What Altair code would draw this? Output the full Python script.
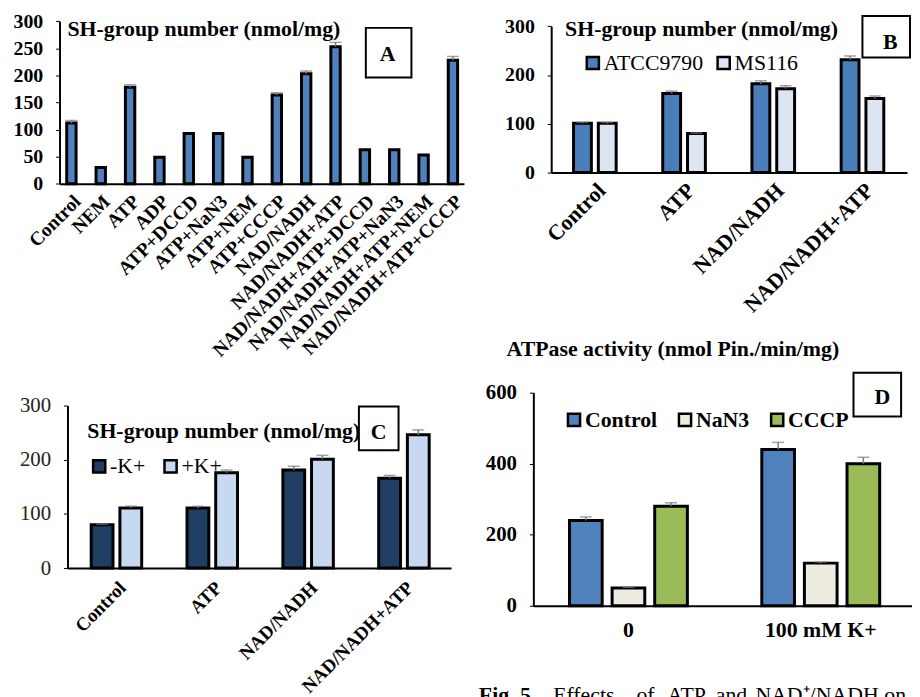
import altair as alt
import pandas as pd

SERIF = "Liberation Serif"
H = 689  # plot height (page height minus 8px margin)
W = 912

# ---------------- data ----------------
a_categories = ["Control", "NEM", "ATP", "ADP", "ATP+DCCD", "ATP+NaN3", "ATP+NEM",
                "ATP+CCCP", "NAD/NADH", "NAD/NADH+ATP", "NAD/NADH+ATP+DCCD",
                "NAD/NADH+ATP+NaN3", "NAD/NADH+ATP+NEM", "NAD/NADH+ATP+CCCP"]
a_values = [112, 30, 178, 49, 93, 93, 49, 164, 203, 253, 63, 63, 53, 228]
a_errors = [5, 0, 5, 0, 0, 0, 0, 4, 5, 8, 0, 0, 0, 7]

b_groups = ["Control", "ATP", "NAD/NADH", "NAD/NADH+ATP"]
b_series = ["ATCC9790", "MS116"]
b_atcc = [101, 162, 182, 231]
b_ms116 = [101, 80, 172, 152]
b_atcc_err = [2, 5, 6, 8]
b_ms116_err = [2, 1, 6, 5]
b_colors = ["#4a7ebb", "#dce6f2"]

c_groups = ["Control", "ATP", "NAD/NADH", "NAD/NADH+ATP"]
c_series = ["-K+", "+K+"]
c_minus = [80, 111, 181, 166]
c_plus = [111, 176, 201, 246]
c_minus_err = [1, 3, 7, 5]
c_plus_err = [3, 5, 7, 9]
c_colors = ["#203d63", "#c6d9f1"]

d_groups = ["0", "100 mM K+"]
d_series = ["Control", "NaN3", "CCCP"]
d_control = [240, 440]
d_nan3 = [50, 120]
d_cccp = [280, 400]
d_control_err = [10, 20]
d_nan3_err = [2, 3]
d_cccp_err = [10, 18]
d_colors = ["#4f81bd", "#eeece1", "#9bbb59"]

caption_words = ["Effects", "of", "ATP", "and", "NAD\u207a/NADH", "on"]

ERR_COLOR = "#7a7a7a"


def grouped_df(groups, series, values_list, errors_list):
    rows = []
    for s, vals, errs in zip(series, values_list, errors_list):
        for g, v, e in zip(groups, vals, errs):
            rows.append({"group": g, "series": s, "value": v, "err": e})
    return pd.DataFrame(rows)


df_a = pd.DataFrame({"group": a_categories, "series": "all",
                     "value": a_values, "err": a_errors})
df_b = grouped_df(b_groups, b_series, [b_atcc, b_ms116], [b_atcc_err, b_ms116_err])
df_c = grouped_df(c_groups, c_series, [c_minus, c_plus], [c_minus_err, c_plus_err])
df_d = grouped_df(d_groups, d_series, [d_control, d_nan3, d_cccp],
                  [d_control_err, d_nan3_err, d_cccp_err])


# ---------------- helpers ----------------
def y_axis(values, axis_x, bold=True, size=20, color="black"):
    return alt.Axis(values=values, title=None, grid=False, orient="left",
                    offset=-axis_x, labelFont=SERIF, labelFontSize=size,
                    labelFontWeight="bold" if bold else "normal",
                    labelColor=color, labelPadding=13, labelOverlap=False,
                    tickSize=4, tickColor="black", tickWidth=1,
                    domainColor="black", domainWidth=2)


def x_axis(size, axis_y, angle=-45, pad=2):
    kw = dict(title=None, orient="bottom", offset=axis_y - H, labelAngle=angle,
              labelFont=SERIF, labelFontSize=size, labelFontWeight="bold",
              labelColor="black", ticks=False, domainColor="black",
              domainWidth=2, labelPadding=pad, labelOverlap=False, labelLimit=0)
    if angle != 0:
        kw.update(labelAlign="right", labelBaseline="top")
    return alt.Axis(**kw)


def text_layer(text, x, y, size, weight="bold", align="left", baseline="alphabetic"):
    return alt.Chart(pd.DataFrame({"t": [text]})).mark_text(
        font=SERIF, fontSize=size, fontWeight=weight, align=align,
        baseline=baseline, color="black").encode(
        x=alt.value(x), y=alt.value(y), text="t:N")


def box_layer(x1, x2, y1, y2):
    return alt.Chart(pd.DataFrame({"t": [""]})).mark_rect(
        fill="white", stroke="black", strokeWidth=2).encode(
        x=alt.value(x1), x2=alt.value(x2), y=alt.value(y1), y2=alt.value(y2))


def legend(x, y, bold=False, colpad=16):
    return alt.Legend(orient="none", legendX=x, legendY=y, direction="horizontal",
                      title=None, symbolType="square", symbolSize=150,
                      symbolStrokeColor="black", symbolStrokeWidth=2.5,
                      symbolOpacity=1, labelFont=SERIF, labelFontSize=22,
                      labelFontWeight="bold" if bold else "normal",
                      labelColor="black", labelOffset=0, columnPadding=colpad,
                      padding=0)


def bar_panel(df, groups, series, colors, x_range, x_pi, x_po, x_align, off_pi,
              y_dom, y_range, x_ax, y_ax, leg, single_fill=None):
    base = alt.Chart(df)
    xs = alt.Scale(domain=groups, range=x_range, paddingInner=x_pi,
                   paddingOuter=x_po, align=x_align)
    ys = alt.Scale(domain=y_dom, range=y_range, nice=False, zero=True)
    enc_x = alt.X("group:N", scale=xs, axis=x_ax)
    enc_x_noax = alt.X("group:N", scale=xs, axis=None)
    extra = {}
    if single_fill is None:
        xo = alt.XOffset("series:N", scale=alt.Scale(domain=series,
                                                     paddingInner=off_pi,
                                                     paddingOuter=0))
        extra["xOffset"] = xo
        bars = base.mark_bar(stroke="black", strokeWidth=3).encode(
            x=enc_x, xOffset=xo,
            y=alt.Y("value:Q", scale=ys, axis=y_ax),
            color=alt.Color("series:N", scale=alt.Scale(domain=series, range=colors),
                            legend=leg))
    else:
        bars = base.mark_bar(fill=single_fill, stroke="black", strokeWidth=3).encode(
            x=enc_x, y=alt.Y("value:Q", scale=ys, axis=y_ax))
    errs = base.transform_filter("datum.err > 0").transform_calculate(
        top="datum.value + datum.err")
    rule = errs.mark_rule(color=ERR_COLOR, strokeWidth=1.5).encode(
        x=enc_x_noax, y=alt.Y("value:Q", scale=ys, axis=None),
        y2="top:Q", **extra)
    cap = errs.mark_tick(color=ERR_COLOR, thickness=1.5, size=12).encode(
        x=enc_x_noax, y=alt.Y("top:Q", scale=ys, axis=None), **extra)
    return [bars, rule, cap]


layers = []

# ---------------- panel A ----------------
layers += bar_panel(df_a, a_categories, ["all"], None, [52, 460], 0.68, 0.23, 0.53, 0,
                    [0, 300], [174.3, 10.3],
                    x_axis(19.5, 174.3, pad=8),
                    y_axis([0, 50, 100, 150, 200, 250, 300], 52), None,
                    single_fill="#4f81bd")
layers += [
    text_layer("SH-group number (nmol/mg)", 60, 25.3, 22),
    box_layer(361, 407, 17, 67),
    text_layer("A", 383, 50.3, 22, align="center"),
]

# ---------------- panel B ----------------
layers += bar_panel(df_b, b_groups, b_series, b_colors, [548, 907], 0.522, 0.2555,
                    0.49, 0.28, [0, 300], [163, 15.3],
                    x_axis(22, 163, pad=7), y_axis([0, 100, 200, 300], 548),
                    legend(579, 41, colpad=8))
layers += [
    text_layer("SH-group number (nmol/mg)", 562, 25.3, 22),
    box_layer(862, 910, 5, 47),
    text_layer("B", 890, 38.7, 22, align="center"),
]

# ---------------- panel C ----------------
layers += bar_panel(df_c, c_groups, c_series, c_colors, [60, 447], 0.473, 0.238, 0.52,
                    0.24, [0, 300], [562, 398],
                    x_axis(19, 562, pad=10),
                    y_axis([0, 100, 200, 300], 60, bold=False, size=21,
                           color="#222222"),
                    legend(81, 448, colpad=13))
layers += [
    text_layer("SH-group number (nmol/mg)", 80, 430.3, 22),
    box_layer(354, 394, 399, 443),
    text_layer("C", 374, 431.3, 22, align="center"),
]

# ---------------- panel D ----------------
layers += bar_panel(df_d, d_groups, d_series, d_colors, [530, 912], 0.387, 0.178,
                    0.528, 0.233, [0, 600], [600, 385],
                    x_axis(22, 600, angle=0, pad=14),
                    y_axis([0, 200, 400, 600], 530, size=21),
                    legend(560, 401, bold=True, colpad=16))
layers += [
    text_layer("ATPase activity (nmol Pin./min/mg)", 503, 348, 22),
    box_layer(853, 901, 365, 409),
    text_layer("D", 882, 396, 22, align="center"),
    text_layer("Fig. 5.", 475, 680, 22, baseline="top"),
]
for word, px in zip(caption_words, [550, 634, 665, 714, 754, 884]):
    layers.append(text_layer(word, px, 680, 22, weight="normal", baseline="top"))

chart = alt.layer(*layers).resolve_scale(
    x="independent", y="independent", color="independent", xOffset="independent"
).resolve_axis(x="independent", y="independent").resolve_legend(
    color="independent"
).properties(
    width=W, height=H, autosize=alt.AutoSizeParams(type="none"), padding=0,
    background="white",
).configure_view(stroke=None)

chart.save("out.html", embed_options={"renderer": "svg", "actions": False})
